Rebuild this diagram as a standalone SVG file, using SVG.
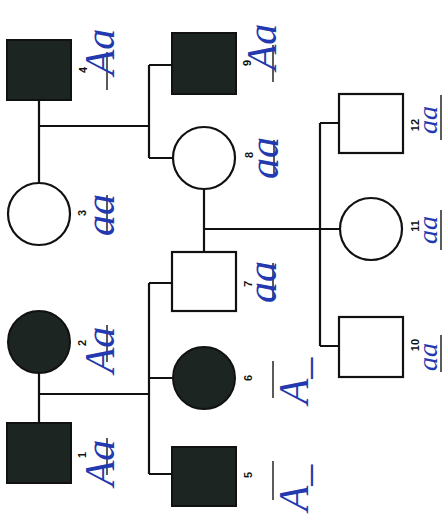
<svg xmlns="http://www.w3.org/2000/svg" width="444" height="522" viewBox="0 0 444 522">
<style>
.aff{fill:#1d2523;stroke:#111;stroke-width:2}
.un{fill:#fff;stroke:#111;stroke-width:2.2}
.ln{fill:none;stroke:#111;stroke-width:2.2}
.bl{fill:none;stroke:#333;stroke-width:1.6}
.num{font-family:"Liberation Sans",Arial,sans-serif;font-size:11px;font-weight:bold;fill:#111;text-anchor:middle;dominant-baseline:central}
.gt{font-family:"Liberation Serif","DejaVu Serif",serif;font-style:italic;font-size:42px;fill:#2239b0;text-anchor:middle;dominant-baseline:central}
.gs{font-size:28px}
</style>
<rect width="444" height="522" fill="#fff"/>
<g id="connectors">
<path class="ln" d="M39,100 V184 M39,126 H149 M149,65 V158 M149,65 H172 M149,158 H172"/>
<path class="ln" d="M39,372 V423 M39,394 H149 M149,283 V474 M149,283 H172 M149,378 H172 M149,474 H172"/>
<path class="ln" d="M204,188 V252 M204,229 H339 M320,123 V346 M320,123 H339 M320,346 H339"/>
</g>
<g id="blanks">
<path class="bl" d="M107,52 V90 M107,195 V235 M107,325 V362 M107,438 V475 M273,45 V82 M274,140 V177 M273,263 V300 M273,361 V398 M273,461 V500 M441,95 V140 M441,210 V250 M441,335 V372"/>
</g>
<g id="n1"><rect class="aff" x="7" y="423" width="64" height="60"/><text class="num" transform="translate(82,455) rotate(-90)">1</text><text class="gt" transform="translate(100,463) rotate(-90)">Aa</text></g>
<g id="n2"><circle class="aff" cx="39" cy="342" r="31"/><text class="num" transform="translate(82,343) rotate(-90)">2</text><text class="gt" transform="translate(100,350) rotate(-90)">Aa</text></g>
<g id="n3"><circle class="un" cx="39" cy="214" r="31"/><text class="num" transform="translate(82,213) rotate(-90)">3</text><text class="gt" transform="translate(100,215) rotate(-90)">aa</text></g>
<g id="n4"><rect class="aff" x="7" y="40" width="64" height="60"/><text class="num" transform="translate(83,70) rotate(-90)">4</text><text class="gt" transform="translate(100,52) rotate(-90)">Aa</text></g>
<g id="n5"><rect class="aff" x="172" y="447" width="64" height="59"/><text class="num" transform="translate(248,475) rotate(-90)">5</text><text class="gt" transform="translate(294,488) rotate(-90)">A_</text></g>
<g id="n6"><circle class="aff" cx="204" cy="378" r="31"/><text class="num" transform="translate(248,378) rotate(-90)">6</text><text class="gt" transform="translate(294,381) rotate(-90)">A_</text></g>
<g id="n7"><rect class="un" x="172" y="252" width="64" height="59"/><text class="num" transform="translate(248,284) rotate(-90)">7</text><text class="gt" transform="translate(262,282) rotate(-90)">aa</text></g>
<g id="n8"><circle class="un" cx="204" cy="158" r="31"/><text class="num" transform="translate(249,155) rotate(-90)">8</text><text class="gt" transform="translate(264,158) rotate(-90)">aa</text></g>
<g id="n9"><rect class="aff" x="172" y="33" width="64" height="61"/><text class="num" transform="translate(247,63) rotate(-90)">9</text><text class="gt" transform="translate(262,47) rotate(-90)">Aa</text></g>
<g id="n10"><rect class="un" x="339" y="317" width="64" height="60"/><text class="num" transform="translate(415,345) rotate(-90)">10</text><text class="gt gs" transform="translate(427,357) rotate(-90)">aa</text></g>
<g id="n11"><circle class="un" cx="371" cy="229" r="31"/><text class="num" transform="translate(415,226) rotate(-90)">11</text><text class="gt gs" transform="translate(427,230) rotate(-90)">aa</text></g>
<g id="n12"><rect class="un" x="339" y="94" width="64" height="59"/><text class="num" transform="translate(415,125) rotate(-90)">12</text><text class="gt gs" transform="translate(427,120) rotate(-90)">aa</text></g>
</svg>
